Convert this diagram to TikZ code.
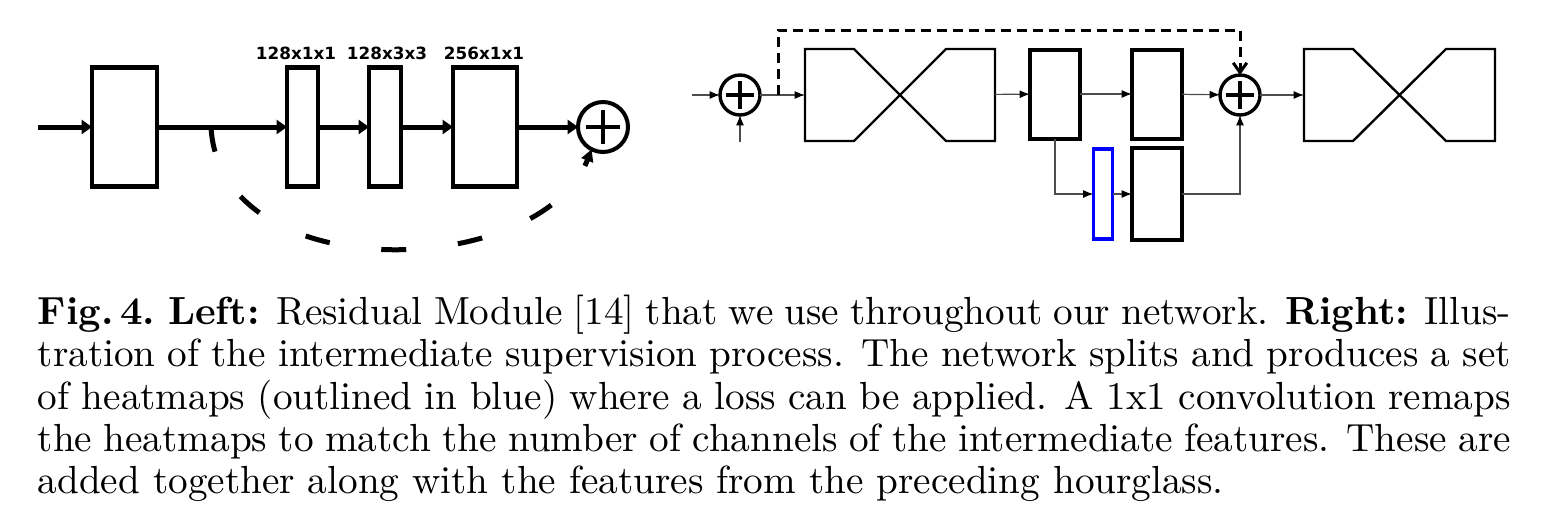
\documentclass[tikz,border=0pt]{standalone}
\usepackage{fontspec}
\newfontfamily\dimfont{DejaVu Sans}
\usetikzlibrary{arrows.meta,positioning,calc}

% hourglass outline drawn over an (invisible) named node
\newcommand{\hgdraw}[1]{%
  \draw[hgline] (#1.north west) -- ++(49,0) -- ($(#1.south east)+(-49,0)$) -- (#1.south east)
    -- (#1.north east) -- ++(-49,0) -- ($(#1.south west)+(49,0)$) -- (#1.south west) -- cycle;}

\tikzset{
  resbox/.style={draw, line width=1.15pt, inner sep=0pt, outer sep=0pt, minimum height=29.75pt},
  hgbox/.style={inner sep=0pt, outer sep=0pt, minimum width=47.5pt, minimum height=23pt},
  hgline/.style={line width=0.6pt, line join=miter},
  convbox/.style={draw, line width=1pt, inner sep=0pt, outer sep=0pt, minimum width=12.5pt},
  heatbox/.style={draw=blue, line width=0.9pt, inner sep=0pt, outer sep=0pt,
    minimum width=4.75pt, minimum height=22.5pt},
  adder/.style={circle, draw, inner sep=0pt, outer sep=0pt,
    path picture={\draw
      ($(path picture bounding box.center)!0.68!(path picture bounding box.west)$) --
      ($(path picture bounding box.center)!0.68!(path picture bounding box.east)$)
      ($(path picture bounding box.center)!0.68!(path picture bounding box.north)$) --
      ($(path picture bounding box.center)!0.68!(path picture bounding box.south)$);}},
  thickarrow/.style={line width=1.25pt, -{Triangle[length=2.6pt,width=3.5pt]}},
  skipcurve/.style={line width=1.25pt, dash pattern=on 6.25pt off 13pt,
    -{Triangle[length=3pt,width=3pt]}},
  thinarrow/.style={line width=0.3pt, draw=black!70, -{Latex[length=2.6pt,width=2pt,color=black]}},
  skipline/.style={line width=0.75pt, dash pattern=on 2.4pt off 1.6pt,
    -{Straight Barb[length=2.4pt,width=3.4pt]}},
  dimlabel/.style={font=\dimfont\bfseries\fontsize{4.2}{5}\selectfont, anchor=base, inner sep=0pt},
  caption/.style={inner sep=0pt, text width=368.25pt, align=justify,
    font=\fontsize{9.8}{10.6}\selectfont}
}

\begin{document}
\begin{tikzpicture}[x=0.25pt, y=-0.25pt]
  \useasboundingbox (0,0) rectangle (1542,527);

  % left: residual module
  \coordinate (in) at (38,127);
  \node[resbox, minimum width=16.25pt] (pre) at (124.5,127) {};
  \node[resbox, minimum width=7.75pt] (c1) at (302.5,127) {};
  \node[resbox, minimum width=8pt] (c2) at (385,127) {};
  \node[resbox, minimum width=16pt] (c3) at (485,127) {};
  \node[adder, line width=1pt, minimum size=12.5pt] (sum) at (603,127) {};
  \node[dimlabel] (l1) at (296,59) {128x1x1};
  \node[dimlabel] (l2) at (387,59) {128x3x3};
  \node[dimlabel] (l3) at (484,59) {256x1x1};
  \draw[thickarrow] (in) -- (pre);
  \draw[thickarrow] (pre) -- (c1);
  \draw[thickarrow] (c1) -- (c2);
  \draw[thickarrow] (c2) -- (c3);
  \draw[thickarrow] (c3) -- (sum);
  \coordinate (skip) at (211,127);
  \draw[skipcurve] (skip) .. controls (220,290) and (540,280) .. (sum.243);

  % right: intermediate supervision
  \coordinate (in2) at (692,95);
  \node[adder, line width=0.85pt, minimum size=10pt] (add1) at (740,95) {};
  \coordinate (up) at (740,142);
  \node[hgbox] (hg1) at (900,95) {};
  \hgdraw{hg1}
  \coordinate (split) at (778,95);
  \node[convbox, minimum height=22.25pt] (feat) at (1055,94) {};
  \node[convbox, minimum height=22.25pt] (conv) at (1157,94) {};
  \node[heatbox] (heat) at (1103,194) {};
  \node[convbox, minimum height=23pt] (remap) at (1157,194) {};
  \node[adder, line width=0.85pt, minimum size=10pt] (add2) at (1240,95) {};
  \node[hgbox, minimum width=47.75pt] (hg2) at (1399.5,95) {};
  \hgdraw{hg2}
  \draw[thinarrow] (in2) -- (add1);
  \draw[thinarrow] (up) -- (add1);
  \draw[thinarrow] (add1) -- (hg1);
  \draw[thinarrow] (hg1) -- (feat);
  \draw[thinarrow] (feat) -- (conv);
  \draw[thinarrow] (conv) -- (add2);
  \draw[thinarrow] (add2) -- (hg2);
  \draw[thinarrow] (feat.south) |- (heat.west);
  \draw[thinarrow] (heat) -- (remap);
  \draw[thinarrow] (remap.east) -| (add2.south);
  \draw[skipline] (split) -- ++(0,-65) -| (add2.north);

  % caption
  \node[caption, anchor=north west] (cap) at (37,294) {\textbf{Fig.\,4.\ Left:} Residual Module [14] that we use throughout our network. \textbf{Right:} Illus-\linebreak
    tration of the intermediate supervision process. The network splits and produces a set\linebreak
    of heatmaps (outlined in blue) where a loss can be applied. A 1x1 convolution remaps\linebreak
    the heatmaps to match the number of channels of the intermediate features. These are\linebreak
    added together along with the features from the preceding hourglass.};
\end{tikzpicture}
\end{document}
